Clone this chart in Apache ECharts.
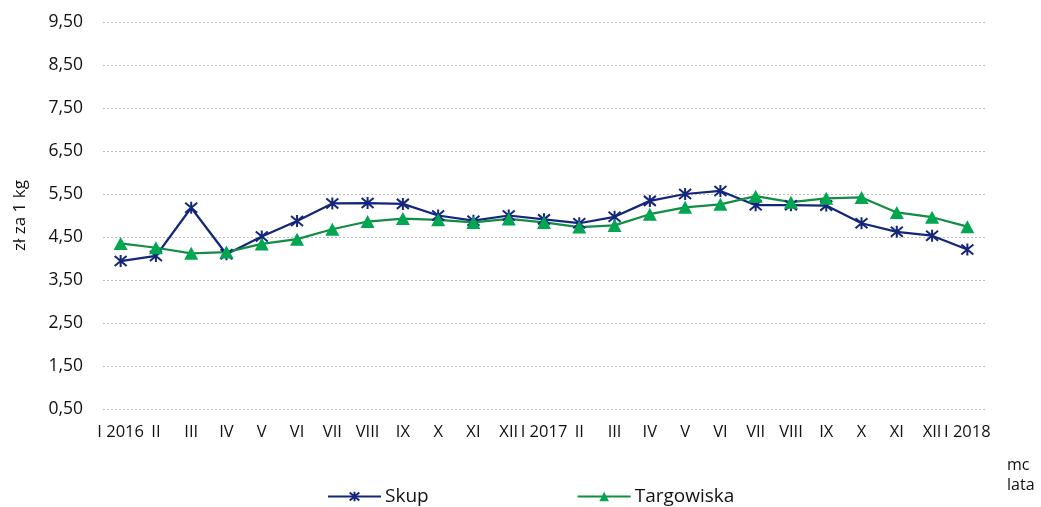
<!DOCTYPE html>
<html><head><meta charset="utf-8">
<script src="https://cdn.jsdelivr.net/npm/echarts@6/dist/echarts.min.js"></script>
<style>html,body{margin:0;padding:0;background:#fff}#c{width:1041px;height:507px}</style>
</head><body><div id="c"></div>
<script>
var categories = ["I 2016","II","III","IV","V","VI","VII","VIII","IX","X","XI","XII","I 2017","II","III","IV","V","VI","VII","VIII","IX","X","XI","XII","I 2018"];
var skup = [3.94,4.06,5.18,4.10,4.51,4.87,5.28,5.29,5.27,5.00,4.88,5.00,4.91,4.82,4.97,5.34,5.50,5.57,5.24,5.24,5.23,4.82,4.62,4.53,4.21];
var targowiska = [4.35,4.25,4.12,4.15,4.34,4.45,4.68,4.86,4.93,4.90,4.84,4.92,4.84,4.73,4.77,5.03,5.19,5.26,5.45,5.31,5.40,5.42,5.07,4.96,4.74];
var yTicks = {min:0.5, max:9.5, interval:1};

var font = "'Open Sans', 'Noto Sans', sans-serif";
var chart = echarts.init(document.getElementById('c'));
chart.setOption({
  animation:false,
  textStyle:{fontFamily:font},
  grid:{left:103, right:56, top:22, bottom:98},
  legend:{
    top:482, left:322, itemGap:148, itemWidth:53, itemHeight:12,
    textStyle:{fontSize:19, color:'#111', fontFamily:font, padding:[0,0,0,-1]},
    data:['Skup','Targowiska']
  },
  xAxis:{
    type:'category', data:categories, boundaryGap:true,
    axisLine:{show:false}, axisTick:{show:false},
    axisLabel:{interval:0, fontSize:16.5, color:'#111', margin:15}
  },
  yAxis:{
    type:'value', min:yTicks.min, max:yTicks.max, interval:yTicks.interval,
    name:'zł za 1 kg', nameLocation:'middle', nameGap:74, nameRotate:90,
    nameTextStyle:{fontSize:17, color:'#111'},
    axisLine:{show:false}, axisTick:{show:false},
    axisLabel:{fontSize:17.5, color:'#111', margin:20, formatter:function(v){return v.toFixed(2).replace('.',',');}},
    splitLine:{lineStyle:{color:'#bdbdbd', type:[2,2], width:1}}
  },
  graphic:[
    {type:'text', left:1007, top:457, style:{text:'mc', fontSize:16, fill:'#111', fontFamily:font}},
    {type:'text', left:1007, top:477, style:{text:'lata', fontSize:16, fill:'#111', fontFamily:font}}
  ],
  series:[
    {
      name:'Skup', type:'line', data:skup,
      symbol:'path://M0,-6 L0,6 M-5,-5 L5,5 M-5,5 L5,-5', symbolSize:12,
      lineStyle:{color:'#14267c', width:2.25},
      itemStyle:{color:'#14267c', borderColor:'#14267c', borderWidth:2}
    },
    {
      name:'Targowiska', type:'line', data:targowiska,
      symbol:'triangle', symbolSize:[14,13],
      lineStyle:{color:'#138d45', width:2.25},
      itemStyle:{color:'#00a650', borderColor:'#00a650', borderWidth:0}
    }
  ]
});
</script></body></html>
